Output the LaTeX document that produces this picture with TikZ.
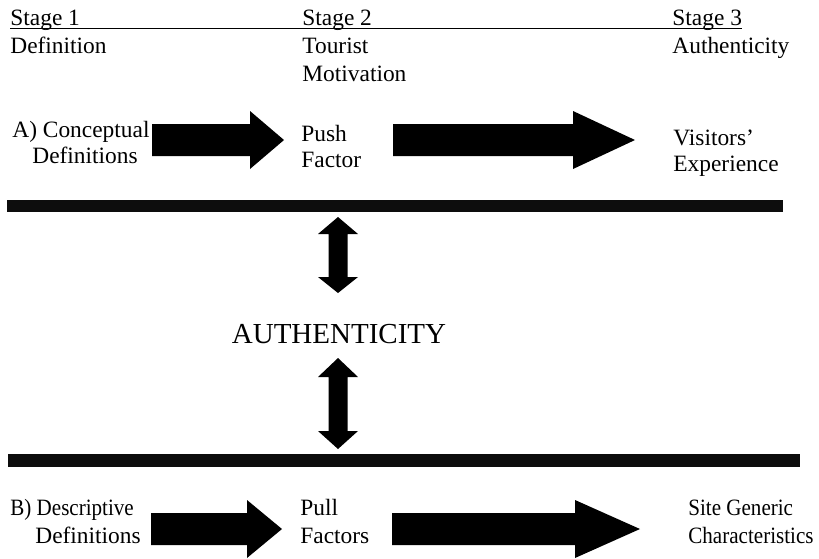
\documentclass[tikz,border=0pt]{standalone}
\usepackage{fontspec}
\setmainfont{Liberation Serif}
\newfontfamily\estrecha[FakeStretch=0.9]{Liberation Serif}
\usetikzlibrary{positioning}
\newcommand{\txtsize}{\fontsize{11.7}{14}\selectfont}
\tikzset{
  lbl/.style     = {font=\txtsize, inner sep=0pt, anchor=base west},
  lblc/.style    = {lbl, font=\txtsize\estrecha},
  grande/.style  = {font=\fontsize{14.5}{17}\selectfont, inner sep=0pt, anchor=base},
  bloque/.style  = {fill=black},
  barra/.style   = {fill=black!95},
  subr/.style    = {line width=0.6pt},
}
% block arrow pointing right: start, head base, tip, y
\newcommand{\flechah}[4]{%
  \fill[bloque] (#1,#4-16) -- (#2,#4-16) -- (#2,#4-29) -- (#3,#4)
    -- (#2,#4+29) -- (#2,#4+16) -- (#1,#4+16) -- cycle;}
% double block arrow (vertical): top tip, top base, bottom base, bottom tip
\newcommand{\flechav}[4]{%
  \fill[bloque] (338,#1) -- (358,#2) -- (347.5,#2) -- (347.5,#3) -- (358,#3)
    -- (338,#4) -- (318,#3) -- (328.5,#3) -- (328.5,#2) -- (318,#2) -- cycle;}

\begin{document}
\begin{tikzpicture}[x=0.5pt, y=-0.5pt]
  \useasboundingbox (0,0) rectangle (819,558);

  % stages
  \node[lbl] (st1) at (10,25) {Stage 1};
  \node[lbl] (st2) at (302,25) {Stage 2};
  \node[lbl] (st3) at (672,25) {Stage 3};
  \draw[subr] (10,28.5) -- (st3.base east |- 0,28.5);
  \node[lbl] (def) at (10,53) {Definition};
  \node[lbl] (tur) at (302,53) {Tourist};
  \node[lbl] (mot) at (302,81) {Motivation};
  \node[lbl] (aut) at (672,53) {Authenticity};

  % row A
  \node[lbl] (conc) at (12,137) {A) Conceptual};
  \node[lbl] (conc2) at (32,163) {Definitions};
  \node[lbl] (push) at (301,141) {Push};
  \node[lbl] (push2) at (301,167) {Factor};
  \node[lbl] (vis) at (673,145) {Visitors'};
  \node[lbl] (vis2) at (673,171) {Experience};
  \flechah{152}{250}{284}{140}
  \flechah{393}{573}{635}{140}

  \fill[barra] (7,200) rectangle (783,212);

  % centre
  \flechav{217}{234}{277}{293}
  \node[grande] (auth) at (339,343) {AUTHENTICITY};
  \flechav{358}{377}{431}{449}

  \fill[barra] (8,454) rectangle (800,467);

  % row B
  \node[lblc] (desc) at (10,515) {B) Descriptive};
  \node[lbl] (desc2) at (35,543) {Definitions};
  \node[lbl] (pull) at (300,515) {Pull};
  \node[lbl] (pull2) at (300,543) {Factors};
  \node[lblc] (site) at (688,515) {Site Generic};
  \node[lblc] (site2) at (688,543) {Characteristics};
  \flechah{151}{247}{282}{529}
  \flechah{392}{575}{640}{529}
\end{tikzpicture}
\end{document}
